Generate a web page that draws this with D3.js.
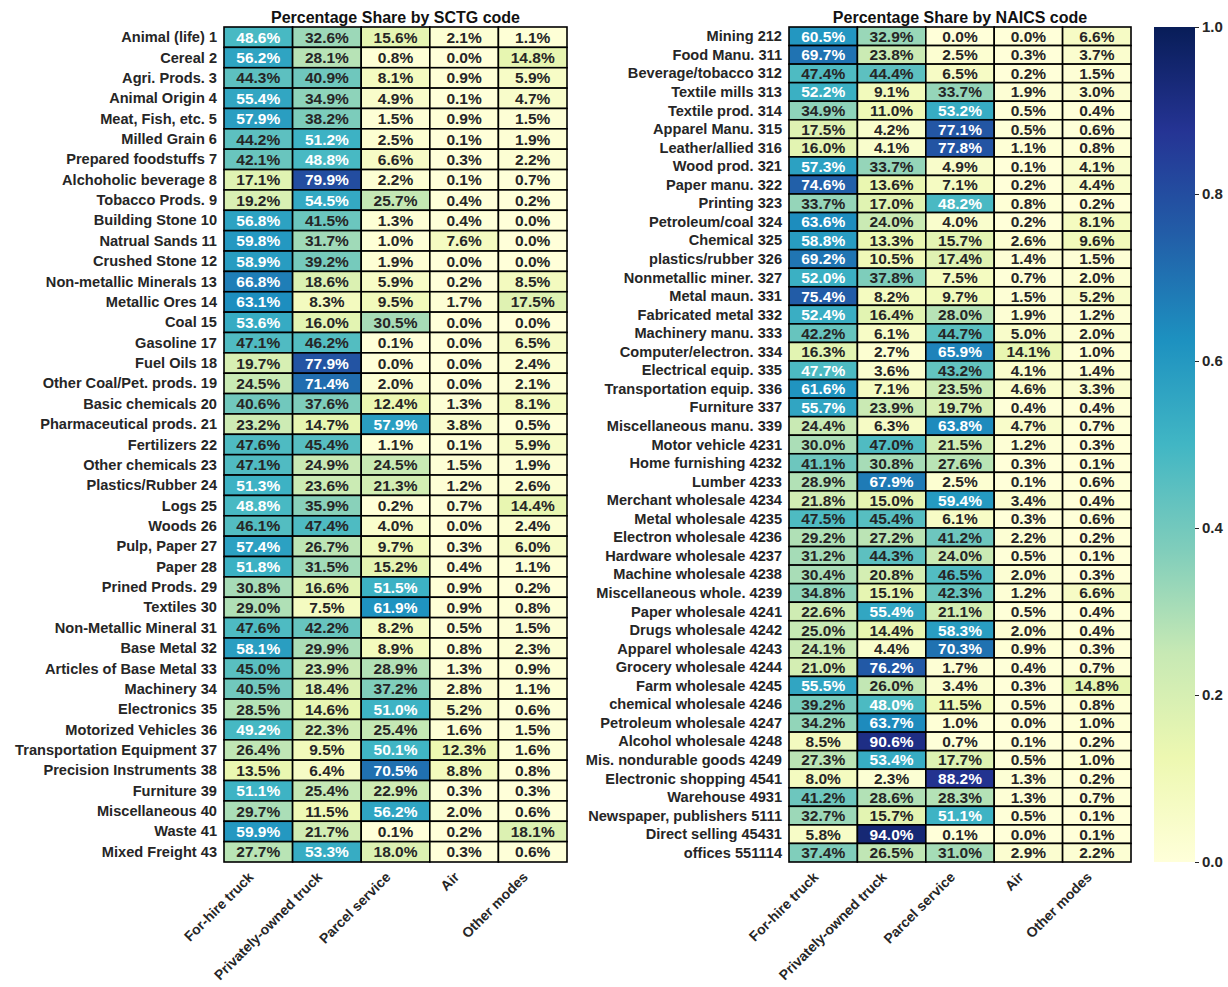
<!DOCTYPE html>
<html>
<head>
<meta charset="utf-8">
<script src="https://cdn.jsdelivr.net/npm/d3@7"></script>
<style>
  html, body { margin: 0; padding: 0; background: #fff; }
  svg { display: block; }
  text { font-family: "Liberation Sans", Arial, sans-serif; font-weight: bold; }
</style>
</head>
<body>
<div id="chart"></div>
<script>
// ---------------- DATA ----------------
const modes = ["For-hire truck", "Privately-owned truck", "Parcel service", "Air", "Other modes"];

const sctgLabels = [
  "Animal (life) 1", "Cereal 2", "Agri. Prods. 3", "Animal Origin 4", "Meat, Fish, etc. 5",
  "Milled Grain 6", "Prepared foodstuffs 7", "Alchoholic beverage 8", "Tobacco Prods. 9",
  "Building Stone 10", "Natrual Sands 11", "Crushed Stone 12", "Non-metallic Minerals 13",
  "Metallic Ores 14", "Coal 15", "Gasoline 17", "Fuel Oils 18", "Other Coal/Pet. prods. 19",
  "Basic chemicals 20", "Pharmaceutical prods. 21", "Fertilizers 22", "Other chemicals 23",
  "Plastics/Rubber 24", "Logs 25", "Woods 26", "Pulp, Paper 27", "Paper 28", "Prined Prods. 29",
  "Textiles 30", "Non-Metallic Mineral 31", "Base Metal 32", "Articles of Base Metal 33",
  "Machinery 34", "Electronics 35", "Motorized Vehicles 36", "Transportation Equipment 37",
  "Precision Instruments 38", "Furniture 39", "Miscellaneous 40", "Waste 41", "Mixed Freight 43"
];

// percentage share per mode (same order as modes)
const sctgValues = [
  [48.6, 32.6, 15.6, 2.1, 1.1],
  [56.2, 28.1, 0.8, 0.0, 14.8],
  [44.3, 40.9, 8.1, 0.9, 5.9],
  [55.4, 34.9, 4.9, 0.1, 4.7],
  [57.9, 38.2, 1.5, 0.9, 1.5],
  [44.2, 51.2, 2.5, 0.1, 1.9],
  [42.1, 48.8, 6.6, 0.3, 2.2],
  [17.1, 79.9, 2.2, 0.1, 0.7],
  [19.2, 54.5, 25.7, 0.4, 0.2],
  [56.8, 41.5, 1.3, 0.4, 0.0],
  [59.8, 31.7, 1.0, 7.6, 0.0],
  [58.9, 39.2, 1.9, 0.0, 0.0],
  [66.8, 18.6, 5.9, 0.2, 8.5],
  [63.1, 8.3, 9.5, 1.7, 17.5],
  [53.6, 16.0, 30.5, 0.0, 0.0],
  [47.1, 46.2, 0.1, 0.0, 6.5],
  [19.7, 77.9, 0.0, 0.0, 2.4],
  [24.5, 71.4, 2.0, 0.0, 2.1],
  [40.6, 37.6, 12.4, 1.3, 8.1],
  [23.2, 14.7, 57.9, 3.8, 0.5],
  [47.6, 45.4, 1.1, 0.1, 5.9],
  [47.1, 24.9, 24.5, 1.5, 1.9],
  [51.3, 23.6, 21.3, 1.2, 2.6],
  [48.8, 35.9, 0.2, 0.7, 14.4],
  [46.1, 47.4, 4.0, 0.0, 2.4],
  [57.4, 26.7, 9.7, 0.3, 6.0],
  [51.8, 31.5, 15.2, 0.4, 1.1],
  [30.8, 16.6, 51.5, 0.9, 0.2],
  [29.0, 7.5, 61.9, 0.9, 0.8],
  [47.6, 42.2, 8.2, 0.5, 1.5],
  [58.1, 29.9, 8.9, 0.8, 2.3],
  [45.0, 23.9, 28.9, 1.3, 0.9],
  [40.5, 18.4, 37.2, 2.8, 1.1],
  [28.5, 14.6, 51.0, 5.2, 0.6],
  [49.2, 22.3, 25.4, 1.6, 1.5],
  [26.4, 9.5, 50.1, 12.3, 1.6],
  [13.5, 6.4, 70.5, 8.8, 0.8],
  [51.1, 25.4, 22.9, 0.3, 0.3],
  [29.7, 11.5, 56.2, 2.0, 0.6],
  [59.9, 21.7, 0.1, 0.2, 18.1],
  [27.7, 53.3, 18.0, 0.3, 0.6]
];

const naicsLabels = [
  "Mining 212", "Food Manu. 311", "Beverage/tobacco 312", "Textile mills 313", "Textile prod. 314",
  "Apparel Manu. 315", "Leather/allied 316", "Wood prod. 321", "Paper manu. 322", "Printing 323",
  "Petroleum/coal 324", "Chemical 325", "plastics/rubber 326", "Nonmetallic miner. 327",
  "Metal maun. 331", "Fabricated metal 332", "Machinery manu. 333", "Computer/electron. 334",
  "Electrical equip. 335", "Transportation equip. 336", "Furniture 337", "Miscellaneous manu. 339",
  "Motor vehicle 4231", "Home furnishing 4232", "Lumber 4233", "Merchant wholesale 4234",
  "Metal wholesale 4235", "Electron wholesale 4236", "Hardware wholesale 4237",
  "Machine wholesale 4238", "Miscellaneous whole. 4239", "Paper wholesale 4241",
  "Drugs wholesale 4242", "Apparel wholesale 4243", "Grocery wholesale 4244",
  "Farm wholesale 4245", "chemical wholesale 4246", "Petroleum wholesale 4247",
  "Alcohol wholesale 4248", "Mis. nondurable goods 4249", "Electronic shopping 4541",
  "Warehouse 4931", "Newspaper, publishers 5111", "Direct selling 45431", "offices 551114"
];

const naicsValues = [
  [60.5, 32.9, 0.0, 0.0, 6.6],
  [69.7, 23.8, 2.5, 0.3, 3.7],
  [47.4, 44.4, 6.5, 0.2, 1.5],
  [52.2, 9.1, 33.7, 1.9, 3.0],
  [34.9, 11.0, 53.2, 0.5, 0.4],
  [17.5, 4.2, 77.1, 0.5, 0.6],
  [16.0, 4.1, 77.8, 1.1, 0.8],
  [57.3, 33.7, 4.9, 0.1, 4.1],
  [74.6, 13.6, 7.1, 0.2, 4.4],
  [33.7, 17.0, 48.2, 0.8, 0.2],
  [63.6, 24.0, 4.0, 0.2, 8.1],
  [58.8, 13.3, 15.7, 2.6, 9.6],
  [69.2, 10.5, 17.4, 1.4, 1.5],
  [52.0, 37.8, 7.5, 0.7, 2.0],
  [75.4, 8.2, 9.7, 1.5, 5.2],
  [52.4, 16.4, 28.0, 1.9, 1.2],
  [42.2, 6.1, 44.7, 5.0, 2.0],
  [16.3, 2.7, 65.9, 14.1, 1.0],
  [47.7, 3.6, 43.2, 4.1, 1.4],
  [61.6, 7.1, 23.5, 4.6, 3.3],
  [55.7, 23.9, 19.7, 0.4, 0.4],
  [24.4, 6.3, 63.8, 4.7, 0.7],
  [30.0, 47.0, 21.5, 1.2, 0.3],
  [41.1, 30.8, 27.6, 0.3, 0.1],
  [28.9, 67.9, 2.5, 0.1, 0.6],
  [21.8, 15.0, 59.4, 3.4, 0.4],
  [47.5, 45.4, 6.1, 0.3, 0.6],
  [29.2, 27.2, 41.2, 2.2, 0.2],
  [31.2, 44.3, 24.0, 0.5, 0.1],
  [30.4, 20.8, 46.5, 2.0, 0.3],
  [34.8, 15.1, 42.3, 1.2, 6.6],
  [22.6, 55.4, 21.1, 0.5, 0.4],
  [25.0, 14.4, 58.3, 2.0, 0.4],
  [24.1, 4.4, 70.3, 0.9, 0.3],
  [21.0, 76.2, 1.7, 0.4, 0.7],
  [55.5, 26.0, 3.4, 0.3, 14.8],
  [39.2, 48.0, 11.5, 0.5, 0.8],
  [34.2, 63.7, 1.0, 0.0, 1.0],
  [8.5, 90.6, 0.7, 0.1, 0.2],
  [27.3, 53.4, 17.7, 0.5, 1.0],
  [8.0, 2.3, 88.2, 1.3, 0.2],
  [41.2, 28.6, 28.3, 1.3, 0.7],
  [32.7, 15.7, 51.1, 0.5, 0.1],
  [5.8, 94.0, 0.1, 0.0, 0.1],
  [37.4, 26.5, 31.0, 2.9, 2.2]
];

const colorbarTicks = [0, 0.2, 0.4, 0.6, 0.8, 1.0];
const titles = ["Percentage Share by SCTG code", "Percentage Share by NAICS code"];

// YlGnBu (ColorBrewer 9-class, linear segments as in matplotlib)
const ylgnbu = ["#ffffd9", "#edf8b1", "#c7e9b4", "#7fcdbb", "#41b6c4", "#1d91c0", "#225ea8", "#253494", "#081d58"];

// ---------------- CHART ----------------
const W = 1228, H = 987;
const svg = d3.select("#chart").append("svg").attr("width", W).attr("height", H);

const cmap = d3.scaleLinear()
  .domain(ylgnbu.map((_, i) => i / (ylgnbu.length - 1)))
  .range(ylgnbu)
  .interpolate(d3.interpolateRgb)
  .clamp(true);
// 256-level lookup like a matplotlib colormap
const color = v => {
  const idx = Math.max(0, Math.min(255, Math.floor(v * 256)));
  return cmap(idx / 255);
};

function lin(c) { return c <= 0.03928 ? c / 12.92 : Math.pow((c + 0.055) / 1.055, 2.4); }
function luminance(col) {
  const c = d3.rgb(col);
  return 0.2126 * lin(c.r / 255) + 0.7152 * lin(c.g / 255) + 0.0722 * lin(c.b / 255);
}

const yTop = 27, yBottom = 862;
const fmt = d => d.toFixed(1) + "%";

function heatmap(x0, x1, labels, values, title) {
  const g = svg.append("g");
  const x = d3.scaleBand().domain(modes).range([x0, x1]).padding(0);
  const y = d3.scaleBand().domain(labels).range([yTop, yBottom]).padding(0);

  const cells = [];
  labels.forEach((r, i) => modes.forEach((m, j) => cells.push({ r, m, v: values[i][j] })));

  g.selectAll("rect.cell").data(cells).join("rect")
    .attr("class", "cell")
    .attr("x", d => x(d.m)).attr("y", d => y(d.r))
    .attr("width", x.bandwidth()).attr("height", y.bandwidth())
    .attr("fill", d => color(d.v / 100))
    .attr("stroke", "#000").attr("stroke-width", 1.6);

  g.selectAll("text.val").data(cells).join("text")
    .attr("class", "val")
    .attr("x", d => x(d.m) + x.bandwidth() / 2)
    .attr("y", d => y(d.r) + y.bandwidth() / 2)
    .attr("text-anchor", "middle").attr("dominant-baseline", "central")
    .attr("font-size", 15.5)
    .attr("fill", d => luminance(color(d.v / 100)) > 0.408 ? "#262626" : "#ffffff")
    .text(d => fmt(d.v));

  // row labels
  g.selectAll("text.row").data(labels).join("text")
    .attr("class", "row")
    .attr("x", x0 - 7)
    .attr("y", d => y(d) + y.bandwidth() / 2)
    .attr("text-anchor", "end").attr("dominant-baseline", "central")
    .attr("font-size", 14.6).attr("fill", "#262626")
    .text(d => d);

  // column labels, rotated
  g.selectAll("text.col").data(modes).join("text")
    .attr("class", "col")
    .attr("text-anchor", "end")
    .attr("font-size", 14).attr("fill", "#262626")
    .attr("transform", d => `translate(${x(d) + x.bandwidth() / 2 - 4},${yBottom + 16}) rotate(-45)`)
    .text(d => d);

  g.append("text")
    .attr("x", (x0 + x1) / 2).attr("y", 23)
    .attr("text-anchor", "middle")
    .attr("font-size", 16).attr("fill", "#111")
    .text(title);
}

heatmap(224, 567, sctgLabels, sctgValues, titles[0]);
heatmap(789, 1131, naicsLabels, naicsValues, titles[1]);

// colorbar
const cbX = 1154, cbW = 41;
const defs = svg.append("defs");
const grad = defs.append("linearGradient").attr("id", "cbgrad")
  .attr("x1", 0).attr("y1", 1).attr("x2", 0).attr("y2", 0);
grad.selectAll("stop").data(ylgnbu).join("stop")
  .attr("offset", (d, i) => i / (ylgnbu.length - 1))
  .attr("stop-color", d => d);

const cy = d3.scaleLinear().domain([0, 1]).range([yBottom, yTop]);
svg.append("rect")
  .attr("x", cbX).attr("y", cy(1)).attr("width", cbW).attr("height", cy(0) - cy(1))
  .attr("fill", "url(#cbgrad)");

const axis = d3.axisRight(cy).tickValues(colorbarTicks).tickFormat(d3.format(".1f")).tickSize(4).tickPadding(3);
const ag = svg.append("g").attr("transform", `translate(${cbX + cbW},0)`).call(axis);
ag.select(".domain").remove();
ag.selectAll(".tick line").attr("stroke", "#262626");
ag.selectAll(".tick text").attr("font-size", 15).attr("fill", "#262626")
  .style("font-family", '"Liberation Sans", Arial, sans-serif').style("font-weight", "bold");
</script>
</body>
</html>
